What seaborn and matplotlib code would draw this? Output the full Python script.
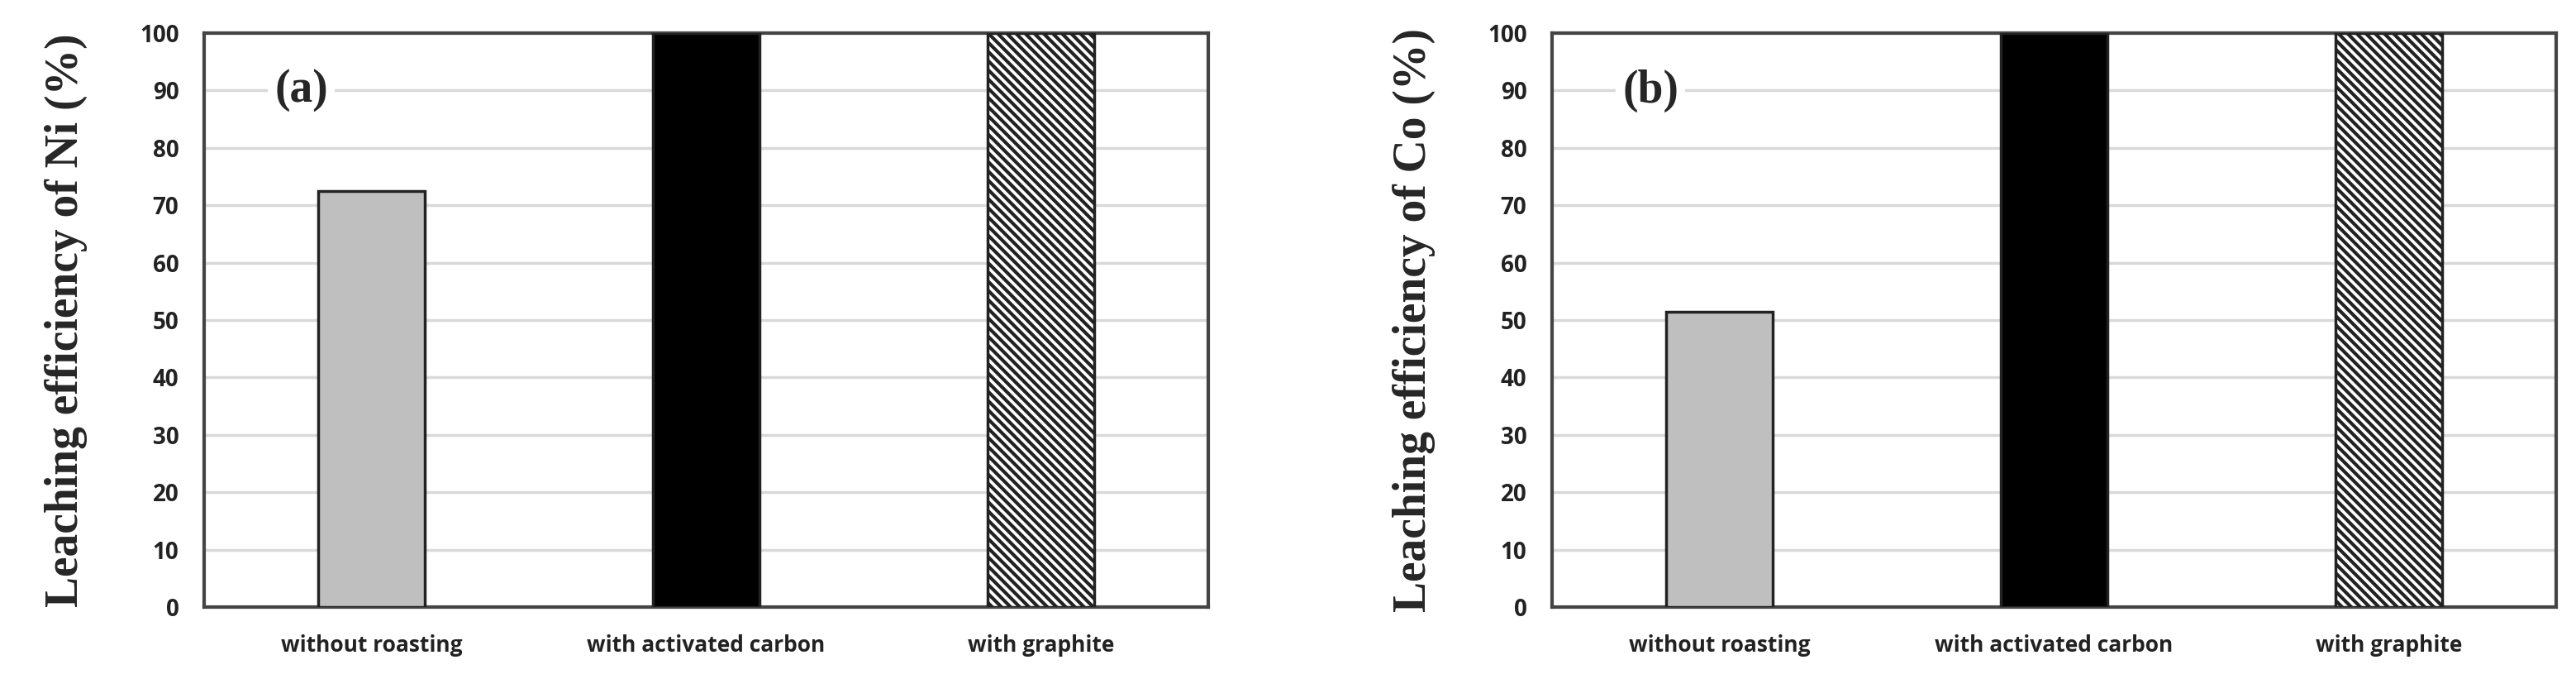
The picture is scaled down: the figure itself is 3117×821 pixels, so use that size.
import matplotlib
matplotlib.use('Agg')
import matplotlib.pyplot as plt
import seaborn as sns
import pandas as pd

categories = ['without roasting', 'with activated carbon', 'with graphite']
ni_values = [72.5, 100, 100]
co_values = [51.5, 100, 100]
panel_labels = ['(a)', '(b)']
ylabels = ['Leaching efficiency of Ni (%)', 'Leaching efficiency of Co (%)']

sns.set_style('white')
plt.rcParams['font.family'] = ['Open Sans', 'DejaVu Sans']
plt.rcParams['hatch.linewidth'] = 3

fig = plt.figure(figsize=(31.17, 8.21), dpi=100)
ax1 = fig.add_axes([247/3117, 1-734/821, 1215/3117, 694/821])
ax2 = fig.add_axes([1878/3117, 1-734/821, 1215/3117, 694/821])

fills = ['#bfbfbf', '#000000', 'white']
hatches = ['', '', '\\\\\\']

for ax, vals, lab, yl in zip([ax1, ax2], [ni_values, co_values], panel_labels, ylabels):
    df = pd.DataFrame({'cat': categories, 'val': vals})
    sns.barplot(data=df, x='cat', y='val', ax=ax, width=0.32, color='white',
                edgecolor='#222222', linewidth=2.5, zorder=3)
    for p, fc, h in zip(ax.patches, fills, hatches):
        p.set_facecolor(fc)
        p.set_hatch(h)
    ax.set_ylim(0, 100)
    ax.set_yticks(range(0, 101, 10))
    ax.yaxis.grid(True, color='#d9d9d9', linewidth=2.5, zorder=0)
    ax.set_axisbelow(True)
    for s in ax.spines.values():
        s.set_color('#444444')
        s.set_linewidth(3)
    ax.tick_params(axis='y', labelsize=20, pad=22, length=0)
    ax.tick_params(axis='x', labelsize=19, pad=24, length=0)
    for t in ax.get_yticklabels() + ax.get_xticklabels():
        t.set_fontweight('bold')
        t.set_color('#222222')
    ax.set_xlabel('')
    ax.set_ylabel(yl, family='Liberation Serif', fontsize=40, fontweight='bold',
                  labelpad=45)
    ax.text(0.07, 0.9, lab, transform=ax.transAxes, family='Liberation Serif',
            fontsize=40, fontweight='bold', va='center', ha='left',
            bbox=dict(facecolor='white', edgecolor='none', pad=6), zorder=5)

fig.savefig('out.png', dpi=100)
